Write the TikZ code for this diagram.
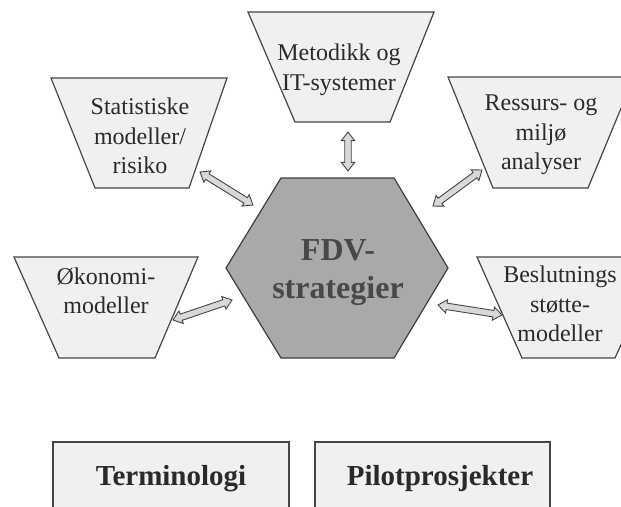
\documentclass[tikz,border=0pt]{standalone}
\usepackage{fontspec}
\setmainfont{Liberation Serif}
\usetikzlibrary{calc,shapes.arrows}

\definecolor{edgegray}{HTML}{454545}
\definecolor{boxfill}{HTML}{F0F0F0}
\definecolor{hexfill}{HTML}{A9A9A9}
\definecolor{hextext}{HTML}{484848}
\definecolor{labeltext}{HTML}{2A2A2A}
\definecolor{arrowfill}{HTML}{D8D8D8}

\tikzset{
  trap/.style={draw=edgegray, fill=boxfill, line width=1.2pt, line join=miter},
  hexshape/.style={draw=edgegray!90!black, fill=hexfill, line width=1.2pt},
  traplabel/.style={align=center, text=labeltext, inner sep=0pt,
    font=\fontsize{24}{29.5}\selectfont},
  hexlabel/.style={align=center, text=hextext, inner sep=0pt,
    font=\fontsize{32}{38}\selectfont\bfseries},
  footbox/.style={draw=edgegray, fill=boxfill, line width=1.2pt},
  footlabel/.style={text=labeltext, inner sep=0pt, anchor=base,
    font=\fontsize{29}{34}\selectfont\bfseries},
  dblarrow/.style={double arrow, draw=edgegray, fill=arrowfill, line width=0.9pt,
    inner sep=2.8pt, double arrow head extend=3.4pt, double arrow tip angle=75,
    minimum width=0pt}
}

% two-headed block arrow between two named points
\newcommand{\linkarrow}[3]{%
  \path let \p1=($(#3)-(#2)$), \n1={atan2(\y1,\x1)}, \n2={veclen(\x1,\y1)} in
    node (#1) [dblarrow, rotate=\n1, minimum height=\n2] at ($(#2)!0.5!(#3)$) {};
}

\begin{document}
\begin{tikzpicture}[x=1pt, y=-1pt]
  \useasboundingbox (0,0) rectangle (621,506);
  \clip (0,0) rectangle (621,506);

  % outer knowledge areas (upside-down trapezoids)
  \draw[trap] (248,12) -- (434,12) -- (390,122) -- (295,122) -- cycle;
  \node[traplabel] (metodikk) at (339,70) {Metodikk og\\IT-systemer};

  \draw[trap] (51,78) -- (227,78) -- (189,188) -- (95,188) -- cycle;
  \node[traplabel] (statistikk) at (140,136) {Statistiske\\modeller/\\risiko};

  \draw[trap] (448,77) -- (634,77) -- (588,188) -- (493,188) -- cycle;
  \node[traplabel] (ressurs) at (541,135) {Ressurs- og\\milj\o\\analyser};

  \draw[trap] (14,257) -- (198,257) -- (155,358) -- (59,358) -- cycle;
  \node[traplabel] (okonomi) at (106,291) {\O konomi-\\modeller};

  \draw[trap] (477,257) -- (661,257) -- (615,358) -- (522,358) -- cycle;
  \node[traplabel] (beslutning) at (560,304) {Beslutnings\\st\o tte-\\modeller};

  % central hexagon
  \draw[hexshape] (281,178) -- (394,178) -- (448,268) -- (394,358)
    -- (281,358) -- (226,268) -- cycle;
  \node[hexlabel] (fdv) at (338,273) {FDV-\\strategier};

  % arrow end points
  \coordinate (mA) at (348,132);  \coordinate (mB) at (348,171);
  \coordinate (sA) at (200,172);  \coordinate (sB) at (253,205);
  \coordinate (rA) at (482,170);  \coordinate (rB) at (433,206);
  \coordinate (oA) at (173,320);  \coordinate (oB) at (232,300);
  \coordinate (bA) at (438,305);  \coordinate (bB) at (502,315);

  \linkarrow{arrM}{mA}{mB}
  \linkarrow{arrS}{sA}{sB}
  \linkarrow{arrR}{rA}{rB}
  \linkarrow{arrO}{oA}{oB}
  \linkarrow{arrB}{bA}{bB}

  % bottom boxes
  \draw[footbox] (53,442) rectangle (289,530);
  \node[footlabel] (terminologi) at (171,485) {Terminologi};
  \draw[footbox] (315,442) rectangle (550,530);
  \node[footlabel] (pilot) at (440,485) {Pilotprosjekter};
\end{tikzpicture}
\end{document}
